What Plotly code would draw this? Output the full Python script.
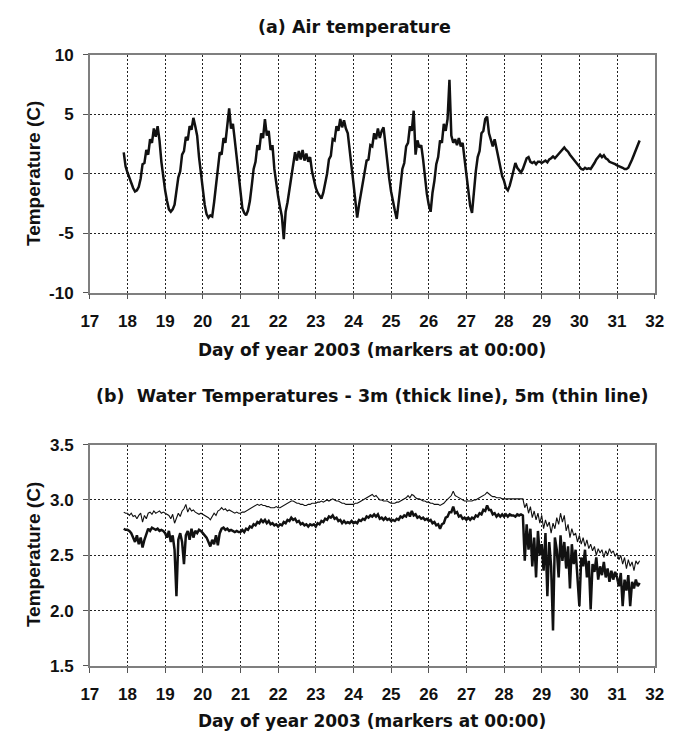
import numpy as np
import plotly.graph_objects as go

# ---------------- data ----------------
# Sampling: every 0.05 day starting at day 17.90
t_start = 17.90
t_step = 0.05

air_temp = [
    1.8, 0.6,
    0.1, -0.4, -0.8, -1.2, -1.5, -1.4, -1.1, -0.4, 0.8, 0.9, 2.0, 1.6, 2.9, 2.6, 3.8, 3.1, 4.0, 2.8, 1.0, -0.3,
    -1.4, -2.3, -3.0, -3.2, -3.0, -2.6, -1.6, -0.3, 0.2, 1.6, 1.9, 3.1, 2.8, 4.0, 3.7, 4.7, 4.0, 3.2, 1.4, 0.0,
    -1.3, -2.6, -3.4, -3.7, -3.5, -3.6, -2.4, -0.8, 0.2, 1.8, 1.6, 3.0, 2.6, 4.2, 5.5, 3.8, 4.2, 2.8, 1.4, -0.4,
    -1.8, -2.9, -3.3, -3.5, -3.1, -2.3, -1.0, 0.4, 1.0, 2.4, 2.0, 3.4, 3.0, 4.6, 3.2, 3.6, 2.0, 2.4, 0.4, -1.0,
    -1.9, -2.8, -3.6, -5.5, -3.2, -2.4, -1.3, -0.2, 1.0, 1.8, 1.1, 1.9, 1.2, 2.0, 1.1, 1.7, 1.0, 1.4, 0.2, -0.6,
    -1.2, -1.6, -1.9, -2.1, -1.6, -0.9, 0.0, 1.2, 1.5, 2.9, 2.8, 4.0, 3.6, 4.6, 3.9, 4.5, 3.8, 3.4, 2.2, 0.6,
    -0.8, -2.2, -3.7, -2.6, -1.6, -0.8, 0.0, 1.1, 1.2, 2.4, 2.3, 3.4, 2.9, 3.8, 3.0, 3.6, 3.9, 2.4, 0.9, -0.4,
    -1.5, -2.4, -3.1, -3.8, -2.4, -1.0, 0.4, 0.9, 2.3, 2.6, 4.0, 3.6, 5.3, 1.6, 2.8, 2.2, 2.4, 1.2, -0.4, -1.7,
    -2.6, -3.2, -1.6, -0.6, 0.8, 1.4, 2.8, 2.6, 4.2, 3.6, 4.6, 7.9, 3.2, 2.6, 2.9, 2.4, 3.0, 2.3, 2.6, 1.2,
    -0.2, -1.6, -2.7, -3.3, -1.4, 0.2, 1.4, 1.9, 3.4, 3.6, 4.6, 4.8, 3.4, 2.9, 2.3, 2.9, 2.1, 1.4, 0.4, -0.2,
    -0.6, -1.2, -1.4, -1.0, -0.4, 0.4, 0.9, 0.5, 0.3, 0.1, 0.4, 0.8, 1.3, 1.4, 1.0, 0.9, 1.0, 0.8, 1.0, 1.0,
    0.9, 1.0, 1.1, 0.95, 1.2, 1.3, 1.45, 1.3, 1.5, 1.65, 1.8, 2.0, 2.2, 2.0, 1.85, 1.6, 1.4, 1.2, 1.05, 0.8,
    0.6, 0.4, 0.35, 0.5, 0.4, 0.45, 0.4, 0.6, 0.9, 1.2, 1.4, 1.6, 1.4, 1.55, 1.3, 1.2, 1.0, 0.95, 0.85, 0.8,
    0.7, 0.65, 0.6, 0.5, 0.4, 0.4, 0.5, 0.8, 1.2, 1.6, 2.0, 2.3,
    2.8,
]

water_5m = [
    2.89, 2.88,
    2.88, 2.86, 2.88, 2.85, 2.86, 2.83, 2.86, 2.88, 2.80, 2.86, 2.83, 2.88, 2.89, 2.87, 2.90, 2.88, 2.89, 2.90, 2.88, 2.89,
    2.88, 2.87, 2.86, 2.83, 2.87, 2.79, 2.83, 2.88, 2.85, 2.90, 2.92, 2.96, 2.89, 2.93, 2.90, 2.91, 2.89, 2.88, 2.87, 2.88,
    2.87, 2.86, 2.85, 2.84, 2.82, 2.85, 2.88, 2.86, 2.90, 2.91, 2.93, 2.91, 2.92, 2.90, 2.91, 2.90, 2.89, 2.88, 2.89, 2.88,
    2.88, 2.89, 2.89, 2.90, 2.91, 2.92, 2.93, 2.94, 2.95, 2.96, 2.95, 2.96, 2.95, 2.95, 2.94, 2.94, 2.93, 2.93, 2.93, 2.94,
    2.93, 2.93, 2.94, 2.95, 2.96, 2.97, 2.98, 2.99, 2.99, 2.98, 2.97, 2.97, 2.96, 2.96, 2.95, 2.95, 2.96, 2.96, 2.97, 2.97,
    2.97, 2.98, 2.98, 2.99, 2.98, 2.99, 3.00, 2.99, 3.00, 3.01, 3.00, 2.99, 2.99, 2.98, 2.97, 2.97, 2.96, 2.96, 2.96, 2.96,
    2.96, 2.97, 2.97, 2.98, 2.99, 3.00, 3.01, 3.02, 3.03, 3.04, 3.05, 3.03, 3.04, 3.02, 3.00, 3.00, 2.99, 2.99, 2.99, 2.98,
    2.97, 2.97, 2.97, 2.98, 2.98, 2.99, 3.00, 3.01, 3.02, 3.04, 3.02, 3.05, 3.04, 3.02, 3.01, 3.01, 3.00, 2.99, 2.99, 2.98,
    2.98, 2.97, 2.97, 2.96, 2.96, 2.96, 2.95, 2.96, 2.97, 2.99, 3.01, 3.02, 3.04, 3.08, 3.04, 3.03, 3.02, 3.01, 3.00, 2.99,
    2.99, 2.99, 2.99, 2.99, 3.00, 3.00, 3.01, 3.02, 3.03, 3.04, 3.05, 3.07, 3.05, 3.04, 3.03, 3.03, 3.02, 3.02, 3.02, 3.01,
    3.01, 3.01, 3.01, 3.01, 3.01, 3.01, 3.01, 3.01, 3.01, 3.01, 3.01, 2.93, 2.97, 2.88, 2.94, 2.84, 2.90, 2.82, 2.88, 2.79,
    2.86, 2.74, 2.82, 2.76, 2.80, 2.70, 2.79, 2.74, 2.84, 2.78, 2.88, 2.80, 2.86, 2.72, 2.78, 2.66, 2.74, 2.68, 2.70, 2.62,
    2.68, 2.60, 2.66, 2.58, 2.64, 2.56, 2.60, 2.54, 2.58, 2.50, 2.56, 2.52, 2.55, 2.48, 2.54, 2.50, 2.56, 2.52, 2.54, 2.49,
    2.52, 2.46, 2.50, 2.42, 2.48, 2.38, 2.46, 2.40, 2.44, 2.36, 2.45, 2.42,
    2.45,
]

water_3m = [
    2.74, 2.73,
    2.73, 2.72, 2.70, 2.66, 2.62, 2.68, 2.60, 2.66, 2.57, 2.64, 2.70, 2.74, 2.72, 2.75, 2.74, 2.73, 2.74, 2.72, 2.73, 2.72,
    2.70, 2.66, 2.72, 2.62, 2.68, 2.55, 2.13, 2.64, 2.70, 2.62, 2.42, 2.68, 2.72, 2.64, 2.74, 2.66, 2.72, 2.70, 2.73, 2.72,
    2.70, 2.68, 2.66, 2.62, 2.58, 2.64, 2.60, 2.68, 2.59, 2.70, 2.74, 2.75, 2.73, 2.74, 2.72, 2.73, 2.72, 2.71, 2.72, 2.71,
    2.71, 2.73, 2.71, 2.74, 2.73, 2.76, 2.75, 2.78, 2.77, 2.80, 2.79, 2.82, 2.80, 2.82, 2.79, 2.81, 2.78, 2.79, 2.77, 2.78,
    2.76, 2.78, 2.77, 2.80, 2.79, 2.82, 2.81, 2.84, 2.82, 2.83, 2.80, 2.81, 2.78, 2.79, 2.77, 2.78, 2.76, 2.78, 2.77, 2.78,
    2.76, 2.79, 2.78, 2.81, 2.80, 2.83, 2.82, 2.85, 2.84, 2.86, 2.83, 2.84, 2.81, 2.82, 2.79, 2.81, 2.79, 2.80, 2.79, 2.81,
    2.79, 2.80, 2.79, 2.82, 2.81, 2.83, 2.82, 2.85, 2.84, 2.86, 2.85, 2.87, 2.85, 2.87, 2.83, 2.84, 2.82, 2.84, 2.82, 2.83,
    2.81, 2.82, 2.81, 2.83, 2.82, 2.85, 2.84, 2.86, 2.85, 2.89, 2.85, 2.90, 2.86, 2.87, 2.84, 2.85, 2.83, 2.84, 2.82, 2.83,
    2.81, 2.82, 2.79, 2.80, 2.77, 2.78, 2.74, 2.78, 2.79, 2.84, 2.85, 2.89, 2.89, 2.94, 2.88, 2.89, 2.85, 2.86, 2.83, 2.84,
    2.82, 2.84, 2.82, 2.84, 2.83, 2.86, 2.85, 2.88, 2.87, 2.91, 2.90, 2.95, 2.91, 2.91, 2.87, 2.88, 2.85, 2.87, 2.85, 2.87,
    2.85, 2.87, 2.85, 2.87, 2.86, 2.86, 2.85, 2.87, 2.86, 2.87, 2.86, 2.45, 2.78, 2.55, 2.74, 2.40, 2.66, 2.30, 2.72, 2.50,
    2.60, 2.36, 2.70, 2.13, 2.62, 2.40, 1.82, 2.66, 2.55, 2.30, 2.68, 2.45, 2.62, 2.38, 2.58, 2.20, 2.60, 2.42, 2.55, 2.30,
    2.04, 2.48, 2.40, 2.55, 2.30, 2.45, 2.01, 2.42, 2.35, 2.48, 2.28, 2.40, 2.32, 2.44, 2.30, 2.38, 2.26, 2.36, 2.28, 2.35,
    2.30, 2.22, 2.34, 2.04, 2.28, 2.18, 2.32, 2.04, 2.26, 2.20, 2.28, 2.22,
    2.25,
]

x_ticks = list(range(17, 33))
air_y_ticks = [-10, -5, 0, 5, 10]
air_y_labels = ["-10", "-5", "0", "5", "10"]
water_y_ticks = [1.5, 2.0, 2.5, 3.0, 3.5]
water_y_labels = ["1.5", "2.0", "2.5", "3.0", "3.5"]

title_a = "(a) Air temperature"
title_b = "(b)  Water Temperatures - 3m (thick line), 5m (thin line)"
x_title = "Day of year 2003 (markers at 00:00)"
y_title = "Temperature (C)"

# ---------------- figure ----------------
W, H = 689, 748


def days_for(vals):
    return np.round(t_start + t_step * np.arange(len(vals)), 3)


fig = go.Figure()
fig.add_trace(go.Scatter(x=days_for(air_temp), y=air_temp, mode="lines",
                         line=dict(color="#111111", width=2.5), xaxis="x", yaxis="y",
                         showlegend=False))
fig.add_trace(go.Scatter(x=days_for(water_5m), y=water_5m, mode="lines",
                         line=dict(color="#111111", width=1.1), xaxis="x2", yaxis="y2",
                         showlegend=False))
fig.add_trace(go.Scatter(x=days_for(water_3m), y=water_3m, mode="lines",
                         line=dict(color="#111111", width=2.5), xaxis="x2", yaxis="y2",
                         showlegend=False))

tickfont = dict(family="Liberation Sans, Arial, sans-serif", size=17, color="#111111", weight=700)
x_dom = [83 / W, 663 / W]

common_axis = dict(
    showgrid=True, gridcolor="#222222", gridwidth=1, griddash="2px,2px",
    showline=True, linecolor="#7f7f7f", linewidth=1.5, mirror=True,
    ticks="outside", ticklen=5, tickcolor="#555555", tickwidth=1,
    zeroline=False, tickfont=tickfont, fixedrange=True,
)

fig.update_layout(
    width=W, height=H,
    margin=dict(l=0, r=0, t=0, b=0),
    paper_bgcolor="white", plot_bgcolor="white",
    xaxis=dict(domain=x_dom, range=[17, 32], tickvals=x_ticks, anchor="y",
               ticklabelstandoff=7, **common_axis),
    yaxis=dict(domain=[(H - 291) / H, (H - 47) / H], range=[-10, 10], tickvals=air_y_ticks,
               ticktext=air_y_labels, anchor="x", ticklabelstandoff=6, **common_axis),
    xaxis2=dict(domain=x_dom, range=[17, 32], tickvals=x_ticks, anchor="y2",
                ticklabelstandoff=7, **common_axis),
    yaxis2=dict(domain=[(H - 674) / H, (H - 447) / H], range=[1.5, 3.5], tickvals=water_y_ticks,
                ticktext=water_y_labels, anchor="x2", ticklabelstandoff=6, **common_axis),
)

title_font = dict(family="DejaVu Sans, Verdana, sans-serif", size=17.5, color="#111111", weight="bold")
xtitle_font = dict(family="DejaVu Sans, Verdana, sans-serif", size=17, color="#111111", weight="bold")
ytitle_font = dict(family="Liberation Sans, Arial, sans-serif", size=19, color="#111111", weight=700)
cx = (83 + 663) / 2 / W

annots = [
    dict(text=title_a, x=355 / W, y=(H - 18) / H, font=title_font),
    dict(text=title_b, x=cx, y=(H - 397) / H, font=title_font),
    dict(text=x_title, x=cx, y=(H - 350) / H, font=xtitle_font),
    dict(text=x_title, x=cx, y=(H - 731) / H, font=xtitle_font),
    dict(text=y_title, x=25 / W, y=(H - 169) / H, font=ytitle_font, textangle=-90),
    dict(text=y_title, x=25 / W, y=(H - 560) / H, font=ytitle_font, textangle=-90),
]
for a in annots:
    fig.add_annotation(xref="paper", yref="paper", showarrow=False,
                       xanchor="center", yanchor="middle", **a)

fig.write_html("out.html")
